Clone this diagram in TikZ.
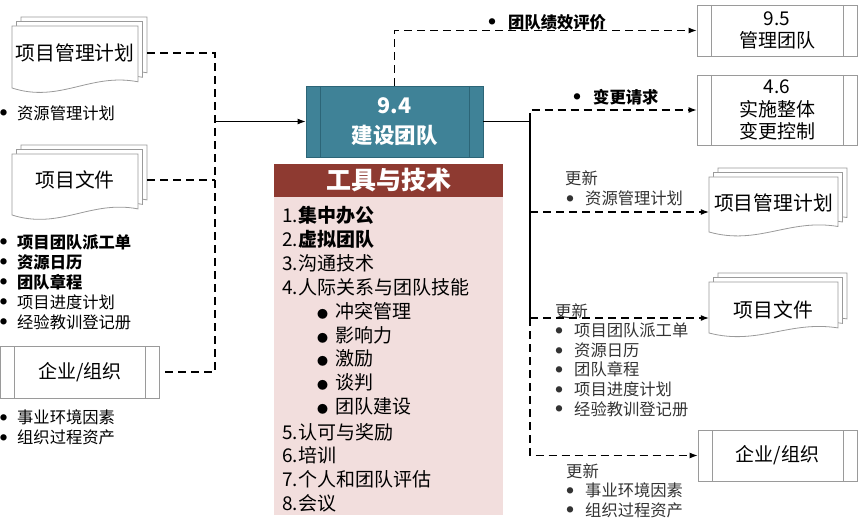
\documentclass[tikz,border=0pt]{standalone}
\usepackage{fontspec}
\setmainfont{Noto Sans CJK SC}
\usetikzlibrary{arrows.meta,positioning}
\definecolor{procteal}{HTML}{3F8297}
\definecolor{procedge}{HTML}{2C6577}
\definecolor{ttred}{HTML}{8E3A31}
\definecolor{ttpink}{HTML}{F2DEDD}
\definecolor{boxgray}{HTML}{9A9A9A}
\definecolor{notegray}{HTML}{333333}

\newcommand\docstack[4]{%
  \foreach \s in {9,4.5,0}
    \filldraw[sheet,shift={(\s,-\s)}] (#1,#2) -- ++(#3,0) -- ++(0,{0.9*#4})
      .. controls ({#1+0.62*#3},{#2+0.75*#4}) and ({#1+0.38*#3},{#2+1.25*#4}) .. (#1,{#2+#4}) -- cycle;
}
\newcommand\dotmark{\raisebox{3.3pt}{\fontsize{7}{7}\selectfont ●}}

\begin{document}
\begin{tikzpicture}[x=1pt,y=-1pt,>={Latex[length=8pt,width=6pt]},
  sheet/.style={draw=boxgray,fill=white,line width=0.8pt},
  docnode/.style={inner sep=0pt,font=\fontsize{19.8}{22}\selectfont},
  procbox/.style={draw=boxgray,fill=white,line width=0.8pt,align=center,inner sep=0pt,
    font=\fontsize{19}{22.5}\selectfont,
    path picture={\draw[#1,line width=0.8pt]
      ([xshift=14pt]path picture bounding box.north west) -- ([xshift=14pt]path picture bounding box.south west)
      ([xshift=-14pt]path picture bounding box.north east) -- ([xshift=-14pt]path picture bounding box.south east);}},
  procbox/.default=boxgray,
  dashline/.style={dash pattern=on 8pt off 5pt,line width=1.1pt},
  solidline/.style={line width=1.1pt},
  lbl/.style={anchor=west,inner sep=0pt,align=left,font=\fontsize{16.3}{20}\selectfont},
  toolitem/.style={anchor=west,inner sep=0pt,font=\fontsize{19}{23}\selectfont}]
  \useasboundingbox (0,0) rectangle (865,532);

  \docstack{12}{26}{126}{62}
  \node[docnode,minimum width=126pt] (lpmp) at (75,53) {项目管理计划};
  \node[lbl] (lpmpnote) at (0,113) {\dotmark\hspace{10pt}资源管理计划};

  \docstack{12}{154}{126}{61}
  \node[docnode,minimum width=126pt] (ldocs) at (75,180) {项目文件};
  \node[lbl] (ldocsnote) at (0,282) {\dotmark\hspace{10pt}\textbf{项目团队派工单}\\\dotmark\hspace{10pt}\textbf{资源日历}\\
    \dotmark\hspace{10pt}\textbf{团队章程}\\\dotmark\hspace{10pt}项目进度计划\\\dotmark\hspace{10pt}经验教训登记册};

  \node[procbox,minimum width=159pt,minimum height=52pt] (lorg) at (80,372) {企业/组织};
  \node[lbl] (lorgnote) at (0,427.5) {\dotmark\hspace{10pt}事业环境因素\\\dotmark\hspace{10pt}组织过程资产};

  \node[procbox=procedge,draw=procedge,fill=procteal,text=white,
    font=\fontsize{21.5}{30}\selectfont\bfseries,minimum width=177pt,minimum height=71pt] (dev) at (394.5,121.5) {9.4\\建设团队};

  \node[fill=ttred,text=white,font=\fontsize{25}{28}\selectfont\bfseries,
    minimum width=229pt,minimum height=33pt,inner sep=0pt] (tth) at (388.5,180.5) {工具与技术};
  \node[fill=ttpink,minimum width=229pt,minimum height=318pt,inner sep=0pt,below=0pt of tth] (ttb) {};
  \node[toolitem] (tool1) at (282,215) {1.\textbf{集中办公}};
  \node[toolitem] (tool2) at (282,239) {2.\textbf{虚拟团队}};
  \node[toolitem] (tool3) at (282,263) {3.沟通技术};
  \node[toolitem] (tool4) at (282,287) {4.人际关系与团队技能};
  \foreach \txt [count=\i] in {冲突管理,影响力,激励,谈判,团队建设}
    \node[toolitem] (sub\i) at (317,{287+23.9*\i}) {{\fontsize{11}{11}\selectfont ●}\hspace{7pt}\txt};
  \node[toolitem] (tool5) at (282,432) {5.认可与奖励};
  \node[toolitem] (tool6) at (282,455) {6.培训};
  \node[toolitem] (tool7) at (282,479) {7.个人和团队评估};
  \node[toolitem] (tool8) at (282,503) {8.会议};

  \node[procbox,minimum width=160pt,minimum height=51pt] (mteam) at (777,30.5) {9.5\\管理团队};
  \node[procbox,minimum width=160pt,minimum height=70pt] (ccontrol) at (777,110) {4.6\\实施整体\\变更控制};
  \node[lbl,font=\fontsize{16.3}{20}\selectfont\bfseries] (perfnote) at (488.5,22) {\dotmark\hspace{12.5pt}团队绩效评价};
  \node[lbl,font=\fontsize{16.3}{20}\selectfont\bfseries] (crnote) at (573.5,97) {\dotmark\hspace{12.5pt}变更请求};

  \docstack{709}{177}{129}{55}
  \node[docnode,minimum width=129pt] (rpmp) at (773.5,203) {项目管理计划};
  \node[lbl,text=notegray] (rpmpnote) at (565,188.5) {更新\\\hspace{1.5pt}\dotmark\hspace{11.5pt}资源管理计划};

  \docstack{709}{282}{129}{51}
  \node[docnode,minimum width=129pt] (rdocs) at (773.5,310) {项目文件};
  \node[lbl,text=notegray,font=\fontsize{16.3}{19.6}\selectfont] (rdocsnote) at (555,360) {更新\\
    \hspace{0.5pt}\dotmark\hspace{11.5pt}项目团队派工单\\\hspace{0.5pt}\dotmark\hspace{11.5pt}资源日历\\
    \hspace{0.5pt}\dotmark\hspace{11.5pt}团队章程\\\hspace{0.5pt}\dotmark\hspace{11.5pt}项目进度计划\\
    \hspace{0.5pt}\dotmark\hspace{11.5pt}经验教训登记册};

  \node[procbox,minimum width=159pt,minimum height=51pt] (rorg) at (777.5,455.5) {企业/组织};
  \node[lbl,text=notegray,font=\fontsize{16.3}{19.5}\selectfont] (rorgnote) at (566,490.5) {更新\\
    \hspace{0.5pt}\dotmark\hspace{11.5pt}事业环境因素\\\hspace{0.5pt}\dotmark\hspace{11.5pt}组织过程资产};

  \coordinate (lbus) at (215,0);
  \coordinate (rbus) at (530,0);
  \coordinate (rpj) at (530,212);
  \coordinate (rmid) at (530,318);
  \draw[dashline] ([xshift=9pt]lpmp.east) -- (lpmp.east -| lbus) -- (lorg.east -| lbus) -- (lorg.east);
  \draw[dashline] ([xshift=9pt]ldocs.east) -- (ldocs.east -| lbus);
  \draw[solidline,->] (dev.west -| lbus) -- (dev.west);
  \draw[dashline,->] (dev.north) |- (mteam.west);
  \draw[solidline] (dev.east) -- (dev.east -| rbus) -- (rmid);
  \draw[dashline,->] (dev.east -| rbus) |- (ccontrol.west);
  \draw[dashline,->] (rpj) -- (rpj -| rpmp.west);
  \draw[dashline,->] (rmid) -- (rmid -| rdocs.west);
  \draw[dashline,->] (rmid) |- (rorg.west);
\end{tikzpicture}
\end{document}
